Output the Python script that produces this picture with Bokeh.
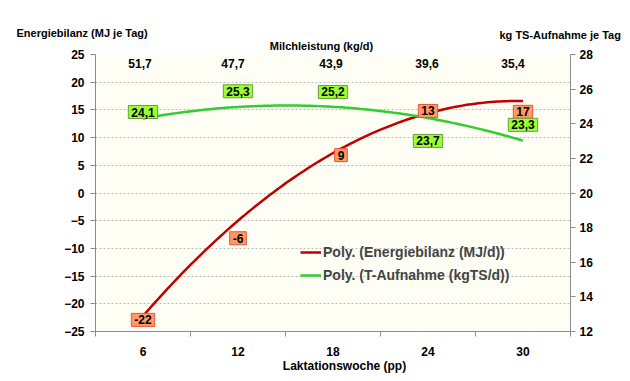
import numpy as np
from bokeh.plotting import figure
from bokeh.models import Range1d, LinearAxis, FixedTicker, Label, Legend, LegendItem, ColumnDataSource
from bokeh.core.properties import value
from bokeh.embed import file_html
from bokeh.resources import INLINE

# ---- data ----
weeks = [6, 12, 18, 24, 30]
energy = [-22, -6, 9, 13, 17]            # MJ/d
intake = [24.1, 25.3, 25.2, 23.7, 23.3]  # kg TS/d
milk = [51.7, 47.7, 43.9, 39.6, 35.4]    # kg/d
left_ticks = [-25, -20, -15, -10, -5, 0, 5, 10, 15, 20, 25]
right_ticks = [12, 14, 16, 18, 20, 22, 24, 26, 28]

FONT = "Liberation Sans"

def de(v):
    return f"{v:.1f}".replace(".", ",")

# label placement styling (screen px)
energy_dx = [0, 0, 8, 0, 0]
energy_dy = [5, 12, 12, -10, 13]
intake_dx = [0, 0, 0, 0, 0]
intake_dy = [-10, -10, -11, 12, -11]
milk_dx = [-3, -5, -2, -1, -10]

# polynomial (order 2) trendlines, as in the original chart
xs = np.linspace(weeks[0], weeks[-1], 120)
e_fit = np.polyval(np.polyfit(weeks, energy, 2), xs)
i_fit = np.polyval(np.polyfit(weeks, intake, 2), xs)

p = figure(width=622, height=373, output_backend="svg", toolbar_location=None,
           x_range=Range1d(3, 33), y_range=Range1d(-25, 25),
           min_border_left=95, min_border_right=52, min_border_top=54, min_border_bottom=42)
p.extra_y_ranges = {"ts": Range1d(12, 28)}
p.background_fill_color = "#FEFEF4"
p.border_fill_color = "white"
p.outline_line_color = None

# axes
p.xaxis.ticker = FixedTicker(ticks=weeks, minor_ticks=[3, 9, 15, 21, 27, 33])
p.xaxis.major_tick_out = 0
p.xaxis.major_tick_in = 0
p.xaxis.minor_tick_out = 5
p.xaxis.minor_tick_in = 0
p.xaxis.major_label_standoff = 10
p.yaxis.ticker = FixedTicker(ticks=left_ticks)
p.yaxis.major_tick_out = 5
p.yaxis.major_tick_in = 0
p.yaxis.minor_tick_line_color = None
p.yaxis.major_label_standoff = 6

ax_r = LinearAxis(y_range_name="ts", ticker=FixedTicker(ticks=right_ticks))
ax_r.major_tick_out = 5
ax_r.major_tick_in = 0
ax_r.minor_tick_line_color = None
ax_r.major_label_standoff = 4
p.add_layout(ax_r, "right")

for ax in [p.xaxis[0], p.yaxis[0], ax_r]:
    ax.axis_line_color = "#8C8C8C"
    ax.major_tick_line_color = "#8C8C8C"
    ax.minor_tick_line_color = "#8C8C8C" if ax is p.xaxis[0] else None
    ax.major_label_text_font = FONT
    ax.major_label_text_font_style = "bold"
    ax.major_label_text_font_size = "12px"
    ax.major_label_text_color = "black"

p.xgrid.grid_line_color = None
p.ygrid.grid_line_color = "#BDBDBD"
p.ygrid.grid_line_dash = "2 2"
p.ygrid.grid_line_width = 1

# trendlines
r_e = p.line(xs, e_fit, line_color="#C00000", line_width=2.5)
r_i = p.line(xs, i_fit, line_color="#33CC33", line_width=2.5, y_range_name="ts")

# data labels
src_e = ColumnDataSource(dict(x=weeks, y=energy, t=[str(v) for v in energy], dx=energy_dx, dy=energy_dy))
src_i = ColumnDataSource(dict(x=weeks, y=intake, t=[de(v) for v in intake], dx=intake_dx, dy=intake_dy))
src_m = ColumnDataSource(dict(x=weeks, y=[25] * len(weeks), t=[de(v) for v in milk], dx=milk_dx))

common = dict(text="t", text_font=value(FONT), text_font_style="bold", text_font_size="12px",
              text_color="black", text_align="center", text_baseline="middle")
p.text(x="x", y="y", x_offset="dx", y_offset="dy", source=src_e,
       background_fill_color="#FF9966", border_line_color="#E5553F", border_line_width=1,
       padding=(3, 2), **common)
p.text(x="x", y="y", x_offset="dx", y_offset="dy", source=src_i, y_range_name="ts",
       background_fill_color="#99FF33", border_line_color="#6E9E3A", border_line_width=1,
       padding=(3, 2), **common)
p.text(x="x", y="y", x_offset="dx", y_offset=9, source=src_m, **common)

# legend
leg = Legend(items=[LegendItem(label="Poly. (Energiebilanz (MJ/d))", renderers=[r_e]),
                    LegendItem(label="Poly. (T-Aufnahme (kgTS/d))", renderers=[r_i])],
             location=(205, 48), padding=0, margin=0, spacing=7,
             glyph_width=21, glyph_height=16, label_height=16, label_standoff=2,
             label_text_font=FONT, label_text_font_style="bold", label_text_font_size="14px",
             background_fill_alpha=0, border_line_color=None)
p.add_layout(leg)

# titles (placed in the side panels so they are not clipped to the frame)
lab = dict(x_units="screen", y_units="screen", text_font=FONT, text_font_style="bold",
           text_font_size="11px", text_color="black", text_baseline="middle")
p.add_layout(Label(x=226, y=9, text="Milchleistung (kg/d)", text_align="center", **lab), "above")
p.add_layout(Label(x=-79, y=10, text="Energiebilanz (MJ je Tag)", text_align="left", **lab), "above")
p.add_layout(Label(x=404, y=-4, text="kg TS-Aufnahme je Tag", text_align="left", **lab), "above")
lab2 = dict(lab)
lab2["text_font_size"] = "12px"
p.add_layout(Label(x=249, y=7, text="Laktationswoche (pp)", text_align="center", **lab2), "below")

open("out.html", "w").write(file_html(p, INLINE))
